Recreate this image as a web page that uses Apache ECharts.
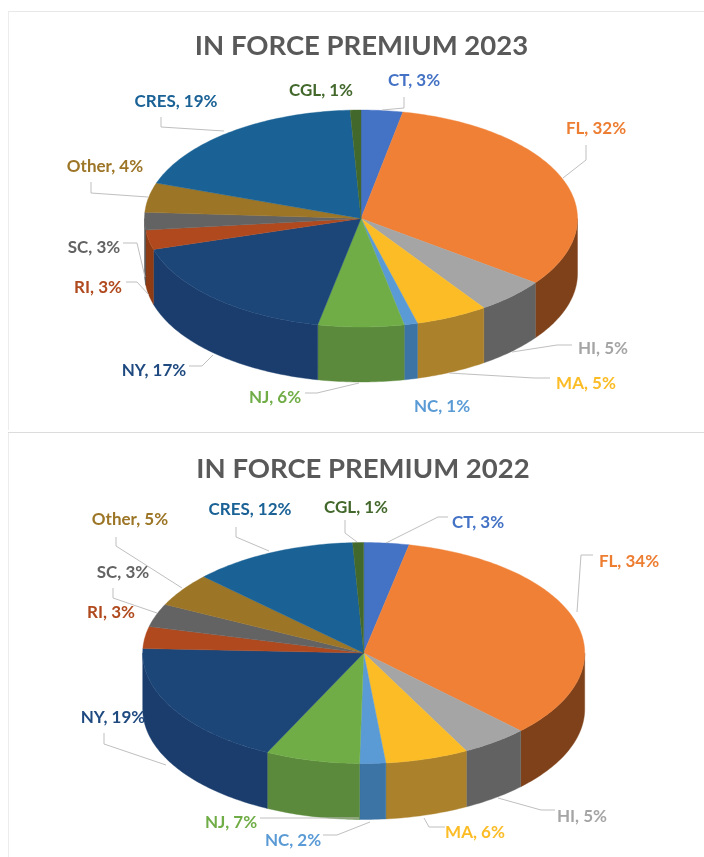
<!DOCTYPE html>
<html>

<head>
  <meta charset="UTF-8">
  <title>In force premium</title>
  <style>
  html, body {
    margin: 0;
    padding: 0;
    background: #fff;
  }

  #content {
    width: 704px;
    height: 857px;
  }
  </style>
  <script src="https://cdn.jsdelivr.net/npm/echarts@6/dist/echarts.min.js"></script>
</head>

<body>
  <div id="content"></div>
  <script type="text/javascript">
  // data (slice shares, the labels show them rounded)
  var states = ['CT', 'FL', 'HI', 'MA', 'NC', 'NJ', 'NY', 'RI', 'SC', 'Other', 'CRES', 'CGL'];
  var share2023 = [3.1, 32.0, 5.3, 5.4, 1.0, 6.4, 17.2, 2.9, 2.6, 4.4, 18.9, 0.8];
  var share2022 = [3.3, 34.2, 4.9, 6.1, 1.9, 6.9, 18.5, 3.2, 3.4, 4.9, 12.1, 0.8];
  var title2023 = 'IN FORCE PREMIUM 2023';
  var title2022 = 'IN FORCE PREMIUM 2022';

  var topColors = ['#4472c4', '#f08036', '#a5a5a5', '#fbbc26', '#5b9bd5', '#70ad47', '#1d4678', '#b04a1e', '#636363', '#9c7526', '#1a6296', '#43682b'];
  var wallColors = ['#2f5597', '#7f4119', '#626262', '#ab822b', '#3b74a5', '#5c8a3c', '#1a3d6d', '#8f3c14', '#4a4a4a', '#7a5a1a', '#144c75', '#33501f'];
  var textColors = ['#4472c4', '#ed7d31', '#a5a5a5', '#fbbc26', '#5b9bd5', '#70ad47', '#1f4a80', '#b04a1e', '#636363', '#9c7526', '#1a6296', '#43682b'];

  // pie geometry
  var pie2023 = { cx: 361, cy: 218.5, rx: 216.5, ry: 108.5, depth: 55 };
  var pie2022 = { cx: 363.7, cy: 653, rx: 221, ry: 110.5, depth: 56 };

  // label centre + leader line, same order as states
  var layout2023 = [
    { at: [414, 81], line: [[404, 97], [404, 108], [382, 110]] },
    { at: [596, 129], line: [[586, 145], [586, 160], [563, 178]] },
    { at: [603, 349], line: [[572, 345], [557, 345], [512, 352]] },
    { at: [586, 384], line: [[550, 378], [534, 378], [449, 373]] },
    { at: [442, 407], line: null },
    { at: [275, 398], line: [[305, 393], [317, 393], [359, 383]] },
    { at: [154, 371], line: [[189, 366], [202, 366], [213, 355]] },
    { at: [98, 288], line: [[126, 282], [137, 282], [149, 295]] },
    { at: [94, 248], line: [[123, 243], [137, 243], [145, 277]] },
    { at: [105, 167], line: [[91, 182], [91, 193], [148, 197]] },
    { at: [176, 102], line: [[161, 117], [161, 127], [224, 131]] },
    { at: [321, 91], line: null }
  ];
  var layout2022 = [
    { at: [478, 523], line: [[448, 517], [438, 517], [386, 543]] },
    { at: [629, 562], line: [[593, 555], [581, 555], [577, 612]] },
    { at: [582, 817], line: [[555, 810], [541, 810], [498, 798]] },
    { at: [475, 833], line: [[445, 827], [429, 827], [424, 818]] },
    { at: [293, 841], line: [[323, 835], [337, 835], [370, 822]] },
    { at: [231, 823], line: [[260, 818], [359, 818]] },
    { at: [113, 718], line: [[104, 733], [104, 744], [166, 765]] },
    { at: [111, 613], line: null },
    { at: [123, 573], line: [[113, 588], [113, 598], [157, 613]] },
    { at: [130, 520], line: [[116, 537], [116, 546], [182, 588]] },
    { at: [250, 510], line: [[236, 527], [236, 537], [269, 551]] },
    { at: [356, 508], line: [[345, 520], [345, 533], [357, 542]] }
  ];

  var fontName = 'Lato';

  function rim(pie, deg, drop) {
    var a = deg * Math.PI / 180;
    return [pie.cx + pie.rx * Math.sin(a), pie.cy - pie.ry * Math.cos(a) + (drop || 0)];
  }

  function arcPoints(pie, from, to, drop) {
    var pts = [];
    var n = Math.max(2, Math.ceil(Math.abs(to - from)));
    for (var i = 0; i <= n; i++) {
      pts.push(rim(pie, from + (to - from) * i / n, drop));
    }
    return pts;
  }

  function cumulative(values) {
    var total = 0;
    values.forEach(function(v) { total += v; });
    var run = 0;
    return values.map(function(v, i) {
      var start = run / total * 360;
      run += v;
      return [start, run / total * 360, i];
    });
  }

  function pieSeries(values, pie) {
    return {
      type: 'custom',
      coordinateSystem: 'none',
      silent: true,
      z: 2,
      data: cumulative(values),
      renderItem: function(params, api) {
        var start = api.value(0);
        var end = api.value(1);
        var idx = api.value(2);
        var children = [];
        // side wall, only the part on the front half shows
        var wFrom = Math.max(start, 90);
        var wTo = Math.min(end, 270);
        if (wTo > wFrom) {
          var upper = arcPoints(pie, wFrom, wTo, 0);
          var lower = arcPoints(pie, wTo, wFrom, pie.depth);
          children.push({
            type: 'polygon',
            shape: { points: upper.concat(lower) },
            style: { fill: wallColors[idx], stroke: wallColors[idx], lineWidth: 0.4 }
          });
        }
        children.push({
          type: 'polygon',
          shape: { points: [[pie.cx, pie.cy]].concat(arcPoints(pie, start, end, 0)) },
          style: { fill: topColors[idx], stroke: topColors[idx], lineWidth: 0.4 }
        });
        return { type: 'group', children: children };
      }
    };
  }

  function labelSeries(values, layout) {
    return {
      type: 'custom',
      coordinateSystem: 'none',
      silent: true,
      z: 5,
      data: values.map(function(v, i) { return [i, v]; }),
      renderItem: function(params, api) {
        var idx = api.value(0);
        var spot = layout[idx];
        var children = [];
        if (spot.line) {
          children.push({
            type: 'polyline',
            shape: { points: spot.line },
            style: { fill: 'none', stroke: '#bfbfbf', lineWidth: 1 }
          });
        }
        children.push({
          type: 'text',
          x: spot.at[0],
          y: spot.at[1],
          style: {
            text: states[idx] + ', ' + Math.round(api.value(1)) + '%',
            fill: textColors[idx],
            font: 'bold 17px ' + fontName,
            align: 'center',
            verticalAlign: 'middle'
          }
        });
        return { type: 'group', children: children };
      }
    };
  }

  function titleBlock(text, x, y) {
    return {
      text: text,
      left: x,
      top: y,
      textAlign: 'center',
      textStyle: { fontFamily: fontName, fontWeight: 'bold', fontSize: 27.5, color: '#595959' }
    };
  }

  var myChart = echarts.init(document.getElementById('content'), null, { renderer: 'canvas' });

  var option = {
    animation: false,
    backgroundColor: '#fff',
    title: [titleBlock(title2023, 356.5, 27), titleBlock(title2022, 358, 450)],
    graphic: [
      { type: 'line', shape: { x1: 8, y1: 11.5, x2: 704, y2: 11.5 }, style: { stroke: '#e8e8e8', lineWidth: 1 } },
      { type: 'line', shape: { x1: 8.5, y1: 11, x2: 8.5, y2: 430 }, style: { stroke: '#ececec', lineWidth: 1 } },
      { type: 'line', shape: { x1: 8, y1: 432.5, x2: 704, y2: 432.5 }, style: { stroke: '#dcdcdc', lineWidth: 1 } },
      { type: 'line', shape: { x1: 8.5, y1: 433, x2: 8.5, y2: 857 }, style: { stroke: '#ececec', lineWidth: 1 } }
    ],
    series: [
      pieSeries(share2023, pie2023),
      pieSeries(share2022, pie2022),
      labelSeries(share2023, layout2023),
      labelSeries(share2022, layout2022)
    ]
  };
  myChart.setOption(option);
  </script>
</body>

</html>
